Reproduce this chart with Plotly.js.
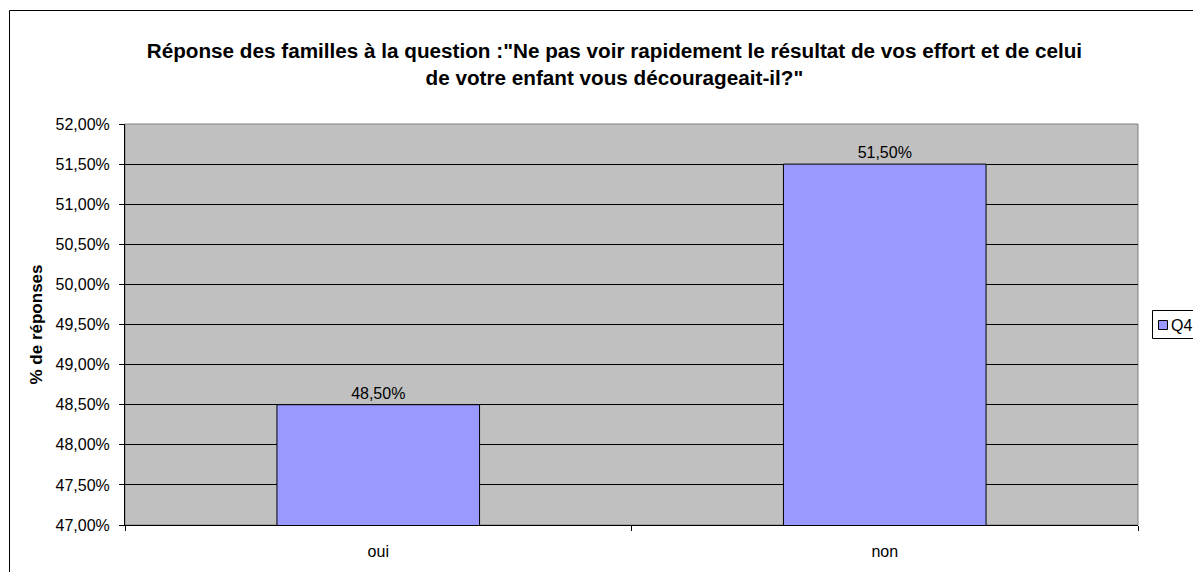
<!DOCTYPE html>
<html><head><meta charset="utf-8">
<script src="https://cdn.plot.ly/plotly-3.0.1.min.js"></script>
<style>html,body{margin:0;padding:0;background:#fff;overflow:hidden}#chart{width:1193px;height:572px}</style>
</head><body><div id="chart"></div>
<script>
const categories = ['oui', 'non'];
const values = [0.485, 0.515];
const seriesName = 'Q4';
const titleText = 'Réponse des familles à la question :"Ne pas voir rapidement le résultat de vos effort et de celui<br>de votre enfant vous décourageait-il?"';
const yTitle = '% de réponses';

const font = 'Liberation Sans, Arial, sans-serif';
const barColor = '#9999FF';
const trace = {
  type: 'bar', x: categories, y: values, name: seriesName,
  marker: {color: barColor, line: {color: '#000', width: 1}},
  width: 0.4,
  texttemplate: '%{y:.2%}', textposition: 'outside',
  textfont: {family: font, size: 16, color: '#000'},
  cliponaxis: false
};
// paper coordinate helpers (plot area: x 125..1138, y 124..525)
const px = v => (v - 125) / 1013;
const py = v => (525 - v) / 401;
const layout = {
  width: 1193, height: 572,
  margin: {l: 125, r: 55, t: 124, b: 47, autoexpand: false},
  paper_bgcolor: '#fff', plot_bgcolor: '#C0C0C0',
  separators: ', ',
  font: {family: font, size: 16, color: '#000'},
  title: {text: titleText, font: {family: font, size: 20.7, color: '#000', weight: 'bold'},
          x: 0.515, xref: 'container', xanchor: 'center', y: 0.898, yref: 'container', yanchor: 'middle'},
  xaxis: {type: 'category', showgrid: false, ticks: 'outside', tickson: 'boundaries', ticklen: 5,
          tickcolor: '#000', showline: true, linecolor: '#000', linewidth: 1, mirror: false,
          ticklabelstandoff: 12, tickfont: {family: font, size: 16}, automargin: false},
  yaxis: {range: [0.47, 0.52], dtick: 0.005, tickformat: '.2%', showgrid: true, gridcolor: '#000', gridwidth: 1,
          ticks: 'outside', ticklen: 5, tickcolor: '#000', showline: true, linecolor: '#000', linewidth: 1,
          zeroline: false, tickfont: {family: font, size: 16}, ticklabelstandoff: 6, automargin: false,
          title: {text: yTitle, font: {family: font, size: 17, weight: 'bold'}, standoff: 8}},
  showlegend: false,
  annotations: [
    {text: seriesName, xref: 'paper', yref: 'paper', x: px(1169), y: py(325), xanchor: 'left', yanchor: 'middle',
     showarrow: false, font: {family: font, size: 16, color: '#000'}}
  ],
  shapes: [
    {type: 'rect', xref: 'paper', yref: 'paper', x0: 0, x1: 1, y0: 0, y1: 1, line: {color: '#808080', width: 1}, layer: 'below'},
    {type: 'rect', xref: 'paper', yref: 'paper', x0: px(9.5), x1: 2, y0: -1, y1: py(10.5), line: {color: '#000', width: 1}, fillcolor: 'rgba(0,0,0,0)'},
    {type: 'rect', xref: 'paper', yref: 'paper', x0: px(1152.5), x1: 2, y0: py(338.5), y1: py(310.5), line: {color: '#000', width: 1}, fillcolor: '#fff'},
    {type: 'rect', xref: 'paper', yref: 'paper', x0: px(1158.5), x1: px(1167.5), y0: py(329.5), y1: py(320.5), line: {color: '#000', width: 1}, fillcolor: barColor}
  ]
};
Plotly.newPlot('chart', [trace], layout, {displayModeBar: false, staticPlot: true});
</script></body></html>
